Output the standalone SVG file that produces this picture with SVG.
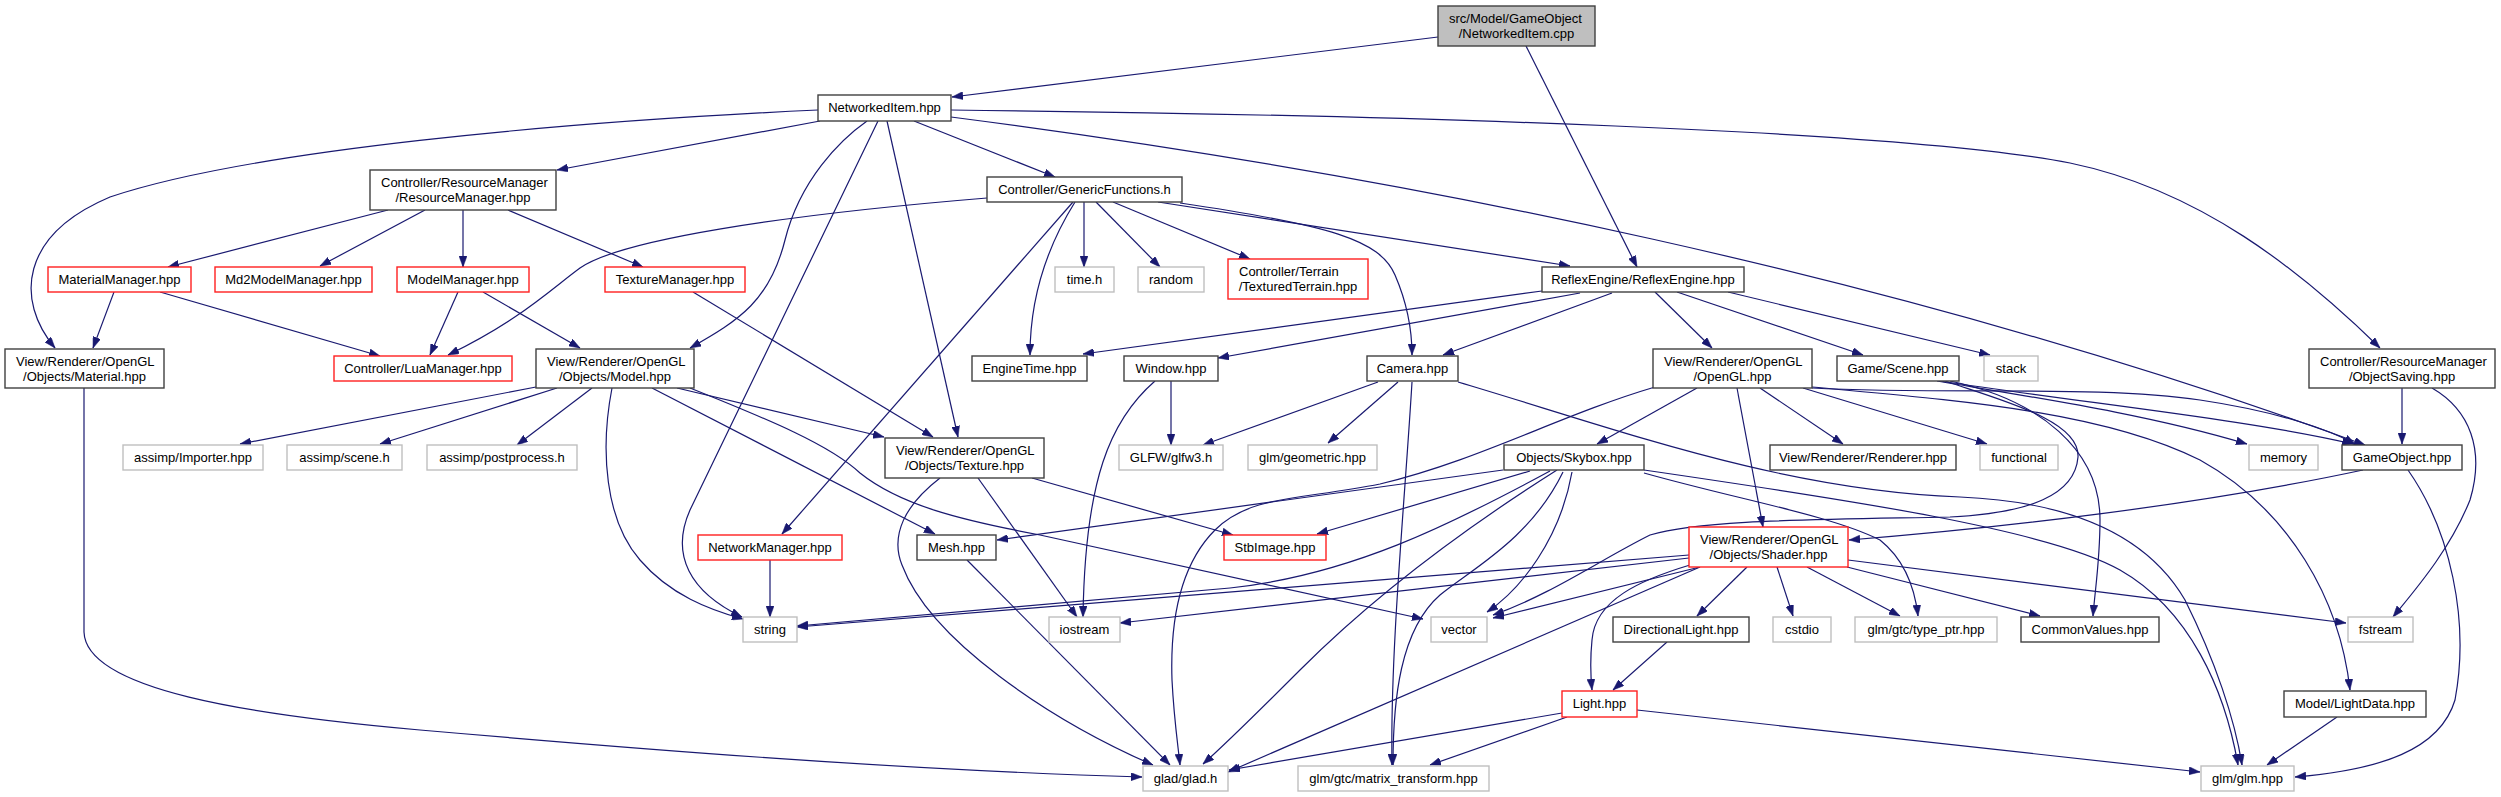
<svg xmlns="http://www.w3.org/2000/svg" width="2501" height="797" viewBox="0 0 2501 797">
<defs>
<marker id="a" viewBox="0 0 11 8" refX="11" refY="4" markerWidth="11" markerHeight="8" markerUnits="userSpaceOnUse" orient="auto">
<path d="M0,0 L11,4 L0,8 z" fill="#191970" stroke="#191970" stroke-width="0.5"/>
</marker>
</defs>
<style>
rect{fill:#fff;stroke:#404040;stroke-width:1.4}
.r rect{stroke:#ff2020}
.g rect{stroke:#bfbfbf}
.root rect{fill:#bfbfbf}
text{font-family:"Liberation Sans",Arial,sans-serif;font-size:13px;fill:#000}
.c{text-anchor:middle}
#edges path{fill:none;stroke:#191970;stroke-width:1.2;marker-end:url(#a)}
</style>
<rect x="0" y="0" width="2501" height="797" style="fill:#fff;stroke:none"/>
<g id="edges">
<path d="M1438,37 L952,97"/>
<path d="M1526,46 L1637,267"/>
<path d="M820,121 L557,170"/>
<path d="M914,121 L1055,177"/>
<path d="M818,110 C560,122 250,150 110,197 C20,235 15,300 55,348"/>
<path d="M867,121 C840,140 800,180 785,240 C770,300 740,320 690,348"/>
<path d="M878,121 L690,510 C670,555 690,592 742,617"/>
<path d="M887,121 L958,437"/>
<path d="M951,117 C1400,175 1900,275 2365,445"/>
<path d="M951,110 C1400,115 1900,130 2070,163 C2200,190 2300,270 2380,348"/>
<path d="M388,210 L168,267"/>
<path d="M425,210 L320,266"/>
<path d="M463,210 L463,267"/>
<path d="M508,210 L643,267"/>
<path d="M114,292 L93,348"/>
<path d="M160,292 L380,356"/>
<path d="M458,292 L430,355"/>
<path d="M483,292 L580,348"/>
<path d="M693,292 L933,437"/>
<path d="M987,198 C780,215 620,240 580,268 C550,290 520,320 448,355"/>
<path d="M1084,202 L1084,267"/>
<path d="M1096,202 L1160,267"/>
<path d="M1113,202 L1250,259"/>
<path d="M1075,202 C1045,250 1030,300 1030,355"/>
<path d="M1073,202 L782,534"/>
<path d="M1158,202 L1570,266"/>
<path d="M1180,203 C1330,225 1380,240 1395,275 C1408,305 1412,330 1412,355"/>
<path d="M1542,291 L1083,354"/>
<path d="M1580,293 L1218,358"/>
<path d="M1612,293 L1443,355"/>
<path d="M1655,292 L1712,348"/>
<path d="M1677,292 L1863,355"/>
<path d="M1728,292 L1990,355"/>
<path d="M1171,381 L1171,445"/>
<path d="M1155,381 C1110,420 1085,480 1083,617"/>
<path d="M1378,382 L1203,445"/>
<path d="M1398,382 L1328,443"/>
<path d="M1412,382 C1405,500 1390,650 1392,765"/>
<path d="M1458,382 C1620,430 1780,490 1960,497 C2080,502 2150,540 2185,600 C2215,660 2235,720 2242,765"/>
<path d="M1697,388 L1597,444"/>
<path d="M1737,388 L1763,527"/>
<path d="M1760,388 L1843,444"/>
<path d="M1803,388 L1987,444"/>
<path d="M1655,387 C1560,415 1480,460 1380,484 C1300,500 1250,495 1215,530 C1180,565 1170,620 1172,680 C1174,720 1178,745 1180,765"/>
<path d="M1937,381 C2050,400 2150,415 2247,444"/>
<path d="M1940,381 C2100,405 2250,420 2353,444"/>
<path d="M1812,388 C1950,395 2100,385 2200,400 C2280,412 2330,430 2355,444"/>
<path d="M1812,387 C1950,400 2100,410 2200,460 C2290,510 2340,600 2350,690"/>
<path d="M1945,381 C2000,400 2080,420 2078,457 C2075,495 2030,513 1950,517 C1800,520 1700,520 1650,535 C1600,560 1550,595 1493,615"/>
<path d="M1950,381 C2040,400 2100,450 2100,520 C2100,560 2095,590 2093,616"/>
<path d="M1503,470 L997,540"/>
<path d="M1530,471 L1317,534"/>
<path d="M1550,471 C1450,525 1350,575 1230,588 L797,626"/>
<path d="M1572,472 C1560,540 1520,590 1487,612"/>
<path d="M1557,470 C1470,525 1380,590 1300,670 C1260,710 1230,740 1203,764"/>
<path d="M1563,472 C1530,540 1470,570 1440,595 C1400,630 1393,700 1393,765"/>
<path d="M1644,473 C1740,500 1830,515 1880,540 C1905,560 1915,590 1918,616"/>
<path d="M1644,470 C1850,500 2050,530 2120,570 C2190,610 2225,690 2238,765"/>
<path d="M1689,555 L797,627"/>
<path d="M1689,558 L1120,623"/>
<path d="M1700,567 L1493,618"/>
<path d="M1700,567 L1228,772"/>
<path d="M1690,565 C1640,580 1595,600 1592,640 C1590,660 1591,680 1592,690"/>
<path d="M1747,567 L1697,616"/>
<path d="M1777,567 L1793,616"/>
<path d="M1807,567 L1900,616"/>
<path d="M1847,567 L2040,616"/>
<path d="M1848,560 L2346,623"/>
<path d="M1562,713 L1229,770"/>
<path d="M1567,717 L1430,765"/>
<path d="M1637,710 L2200,772"/>
<path d="M1667,642 L1613,690"/>
<path d="M2337,717 L2267,765"/>
<path d="M2408,470 C2450,530 2470,620 2455,700 C2440,750 2380,770 2295,777"/>
<path d="M2363,470 C2200,505 2000,528 1849,540"/>
<path d="M2402,388 L2402,444"/>
<path d="M2432,388 C2470,410 2485,450 2470,500 C2450,550 2415,590 2393,617"/>
<path d="M536,387 L240,444"/>
<path d="M557,388 L380,444"/>
<path d="M592,388 L517,445"/>
<path d="M612,388 C600,450 605,520 640,560 C670,595 710,610 743,619"/>
<path d="M652,388 L935,534"/>
<path d="M677,388 L884,437"/>
<path d="M690,388 C770,420 830,445 860,473 C900,505 960,520 1040,535 L1423,619"/>
<path d="M940,478 C905,505 890,535 902,565 C930,640 1050,720 1153,765"/>
<path d="M978,478 L1077,617"/>
<path d="M1032,478 L1233,535"/>
<path d="M967,560 L1170,765"/>
<path d="M770,560 L770,617"/>
<path d="M84,388 L84,632 C86,690 250,715 420,730 C650,750 900,770 1142,777"/>
</g>
<g id="n_cpp" class="root"><rect x="1438" y="6" width="157" height="40"/><text x="1449" y="23">src/Model/GameObject</text><text class="c" x="1516.5" y="38">/NetworkedItem.cpp</text></g>
<g id="n_nihpp"><rect x="818" y="95" width="133" height="26"/><text class="c" x="884.5" y="112">NetworkedItem.hpp</text></g>
<g id="n_resmgr"><rect x="370" y="170" width="186" height="40"/><text x="381" y="187">Controller/ResourceManager</text><text class="c" x="463" y="202">/ResourceManager.hpp</text></g>
<g id="n_generic"><rect x="987" y="177" width="195" height="25"/><text class="c" x="1084.5" y="194">Controller/GenericFunctions.h</text></g>
<g id="n_matmgr" class="r"><rect x="48" y="267" width="143" height="25"/><text class="c" x="119.5" y="284">MaterialManager.hpp</text></g>
<g id="n_md2" class="r"><rect x="215" y="267" width="157" height="25"/><text class="c" x="293.5" y="284">Md2ModelManager.hpp</text></g>
<g id="n_modelmgr" class="r"><rect x="397" y="267" width="132" height="25"/><text class="c" x="463" y="284">ModelManager.hpp</text></g>
<g id="n_texmgr" class="r"><rect x="605" y="267" width="140" height="25"/><text class="c" x="675" y="284">TextureManager.hpp</text></g>
<g id="n_time" class="g"><rect x="1055" y="267" width="59" height="25"/><text class="c" x="1084.5" y="284">time.h</text></g>
<g id="n_random" class="g"><rect x="1138" y="267" width="66" height="25"/><text class="c" x="1171" y="284">random</text></g>
<g id="n_terrain" class="r"><rect x="1228" y="259" width="140" height="40"/><text x="1239" y="276">Controller/Terrain</text><text class="c" x="1298" y="291">/TexturedTerrain.hpp</text></g>
<g id="n_reflex"><rect x="1542" y="267" width="202" height="25"/><text class="c" x="1643" y="284">ReflexEngine/ReflexEngine.hpp</text></g>
<g id="n_material"><rect x="5" y="349" width="159" height="39"/><text x="16" y="366">View/Renderer/OpenGL</text><text class="c" x="84.5" y="381">/Objects/Material.hpp</text></g>
<g id="n_lua" class="r"><rect x="334" y="356" width="178" height="25"/><text class="c" x="423" y="373">Controller/LuaManager.hpp</text></g>
<g id="n_model"><rect x="536" y="349" width="158" height="39"/><text x="547" y="366">View/Renderer/OpenGL</text><text class="c" x="615" y="381">/Objects/Model.hpp</text></g>
<g id="n_enginetime"><rect x="972" y="356" width="115" height="25"/><text class="c" x="1029.5" y="373">EngineTime.hpp</text></g>
<g id="n_window"><rect x="1124" y="356" width="94" height="25"/><text class="c" x="1171" y="373">Window.hpp</text></g>
<g id="n_camera"><rect x="1367" y="356" width="91" height="25"/><text class="c" x="1412.5" y="373">Camera.hpp</text></g>
<g id="n_opengl"><rect x="1653" y="349" width="159" height="39"/><text x="1664" y="366">View/Renderer/OpenGL</text><text class="c" x="1732.5" y="381">/OpenGL.hpp</text></g>
<g id="n_scene"><rect x="1837" y="356" width="122" height="25"/><text class="c" x="1898" y="373">Game/Scene.hpp</text></g>
<g id="n_stack" class="g"><rect x="1984" y="356" width="54" height="25"/><text class="c" x="2011" y="373">stack</text></g>
<g id="n_objsaving"><rect x="2309" y="349" width="186" height="39"/><text x="2320" y="366">Controller/ResourceManager</text><text class="c" x="2402" y="381">/ObjectSaving.hpp</text></g>
<g id="n_importer" class="g"><rect x="123" y="445" width="140" height="25"/><text class="c" x="193" y="462">assimp/Importer.hpp</text></g>
<g id="n_scenei" class="g"><rect x="287" y="445" width="115" height="25"/><text class="c" x="344.5" y="462">assimp/scene.h</text></g>
<g id="n_postproc" class="g"><rect x="427" y="445" width="150" height="25"/><text class="c" x="502" y="462">assimp/postprocess.h</text></g>
<g id="n_texture"><rect x="885" y="438" width="159" height="40"/><text x="896" y="455">View/Renderer/OpenGL</text><text class="c" x="964.5" y="470">/Objects/Texture.hpp</text></g>
<g id="n_glfw" class="g"><rect x="1119" y="445" width="104" height="25"/><text class="c" x="1171" y="462">GLFW/glfw3.h</text></g>
<g id="n_geometric" class="g"><rect x="1248" y="445" width="129" height="25"/><text class="c" x="1312.5" y="462">glm/geometric.hpp</text></g>
<g id="n_skybox"><rect x="1504" y="445" width="140" height="25"/><text class="c" x="1574" y="462">Objects/Skybox.hpp</text></g>
<g id="n_renderer"><rect x="1770" y="445" width="186" height="25"/><text class="c" x="1863" y="462">View/Renderer/Renderer.hpp</text></g>
<g id="n_functional" class="g"><rect x="1980" y="445" width="78" height="25"/><text class="c" x="2019" y="462">functional</text></g>
<g id="n_memory" class="g"><rect x="2249" y="445" width="69" height="25"/><text class="c" x="2283.5" y="462">memory</text></g>
<g id="n_gameobject"><rect x="2342" y="445" width="120" height="25"/><text class="c" x="2402" y="462">GameObject.hpp</text></g>
<g id="n_netmgr" class="r"><rect x="698" y="535" width="144" height="25"/><text class="c" x="770" y="552">NetworkManager.hpp</text></g>
<g id="n_mesh"><rect x="917" y="535" width="79" height="25"/><text class="c" x="956.5" y="552">Mesh.hpp</text></g>
<g id="n_stb" class="r"><rect x="1224" y="535" width="102" height="25"/><text class="c" x="1275" y="552">StbImage.hpp</text></g>
<g id="n_shader" class="r"><rect x="1689" y="527" width="159" height="40"/><text x="1700" y="544">View/Renderer/OpenGL</text><text class="c" x="1768.5" y="559">/Objects/Shader.hpp</text></g>
<g id="n_string" class="g"><rect x="743" y="617" width="54" height="25"/><text class="c" x="770" y="634">string</text></g>
<g id="n_iostream" class="g"><rect x="1049" y="617" width="71" height="25"/><text class="c" x="1084.5" y="634">iostream</text></g>
<g id="n_vector" class="g"><rect x="1431" y="617" width="56" height="25"/><text class="c" x="1459" y="634">vector</text></g>
<g id="n_dirlight"><rect x="1613" y="617" width="136" height="25"/><text class="c" x="1681" y="634">DirectionalLight.hpp</text></g>
<g id="n_cstdio" class="g"><rect x="1773" y="617" width="58" height="25"/><text class="c" x="1802" y="634">cstdio</text></g>
<g id="n_typeptr" class="g"><rect x="1855" y="617" width="142" height="25"/><text class="c" x="1926" y="634">glm/gtc/type_ptr.hpp</text></g>
<g id="n_common"><rect x="2021" y="617" width="138" height="25"/><text class="c" x="2090" y="634">CommonValues.hpp</text></g>
<g id="n_fstream" class="g"><rect x="2348" y="617" width="65" height="25"/><text class="c" x="2380.5" y="634">fstream</text></g>
<g id="n_light" class="r"><rect x="1562" y="691" width="75" height="26"/><text class="c" x="1599.5" y="708">Light.hpp</text></g>
<g id="n_lightdata"><rect x="2284" y="691" width="142" height="26"/><text class="c" x="2355" y="708">Model/LightData.hpp</text></g>
<g id="n_glad" class="g"><rect x="1143" y="766" width="85" height="25"/><text class="c" x="1185.5" y="783">glad/glad.h</text></g>
<g id="n_mtx" class="g"><rect x="1298" y="766" width="191" height="25"/><text class="c" x="1393.5" y="783">glm/gtc/matrix_transform.hpp</text></g>
<g id="n_glm" class="g"><rect x="2201" y="766" width="93" height="25"/><text class="c" x="2247.5" y="783">glm/glm.hpp</text></g>
</svg>
